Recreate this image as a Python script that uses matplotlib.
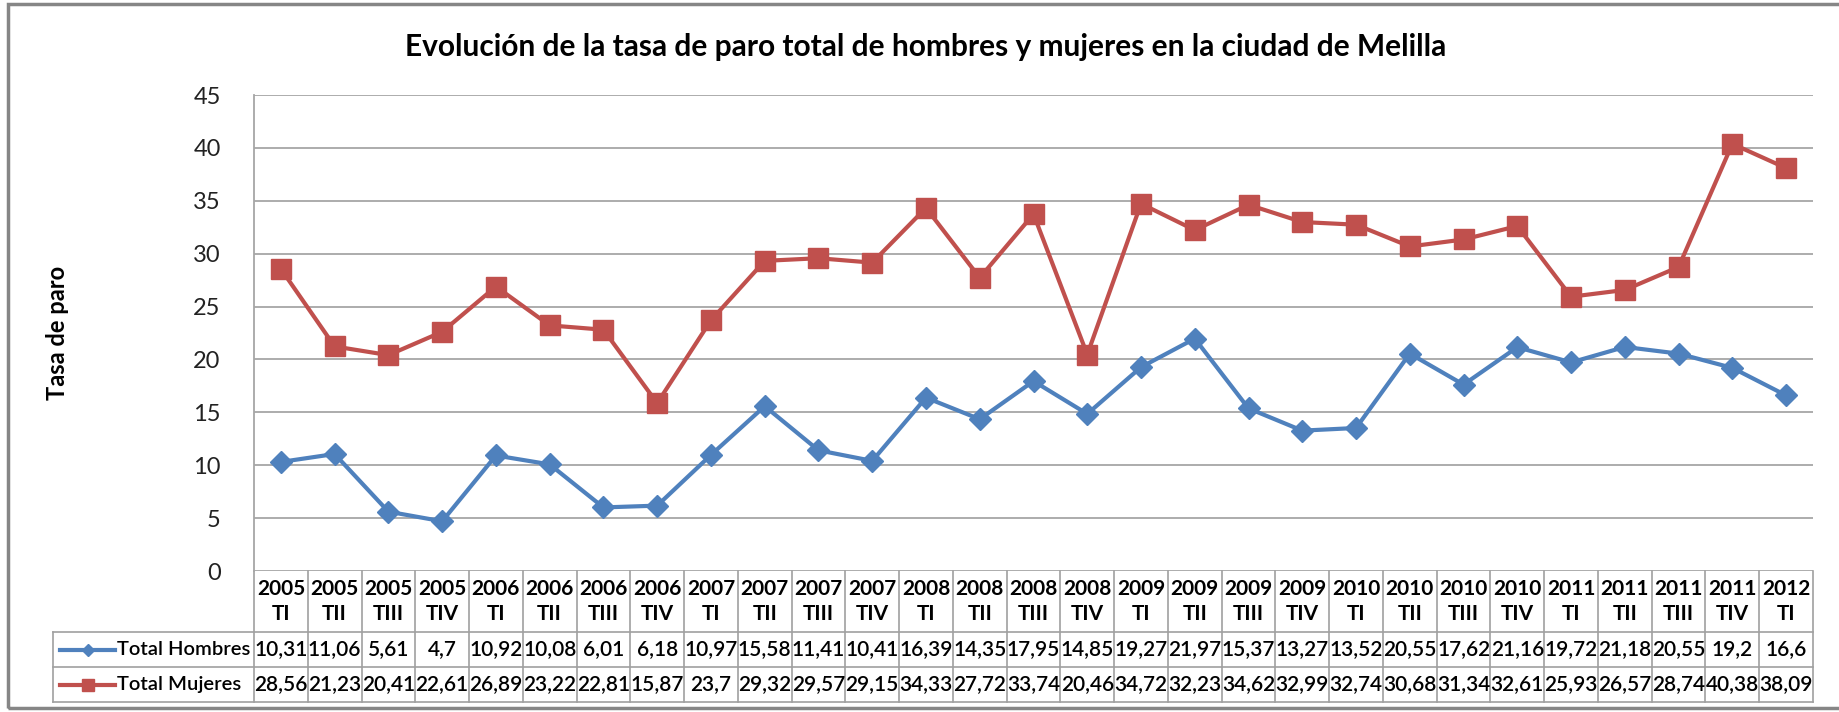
import numpy as np
import matplotlib.pyplot as plt
from matplotlib import transforms
from matplotlib.patches import Rectangle

plt.rcParams['font.family'] = ['Lato', 'DejaVu Sans']

# data
years = ['2005', '2005', '2005', '2005', '2006', '2006', '2006', '2006',
         '2007', '2007', '2007', '2007', '2008', '2008', '2008', '2008',
         '2009', '2009', '2009', '2009', '2010', '2010', '2010', '2010',
         '2011', '2011', '2011', '2011', '2012']
quarters = ['TI', 'TII', 'TIII', 'TIV'] * 7 + ['TI']
hombres = [10.31, 11.06, 5.61, 4.7, 10.92, 10.08, 6.01, 6.18, 10.97, 15.58,
           11.41, 10.41, 16.39, 14.35, 17.95, 14.85, 19.27, 21.97, 15.37, 13.27,
           13.52, 20.55, 17.62, 21.16, 19.72, 21.18, 20.55, 19.2, 16.6]
mujeres = [28.56, 21.23, 20.41, 22.61, 26.89, 23.22, 22.81, 15.87, 23.7, 29.32,
           29.57, 29.15, 34.33, 27.72, 33.74, 20.46, 34.72, 32.23, 34.62, 32.99,
           32.74, 30.68, 31.34, 32.61, 25.93, 26.57, 28.74, 40.38, 38.09]
series = [('Total Hombres', hombres, '#4F81BD', 'D', 11),
          ('Total Mujeres', mujeres, '#C0504D', 's', 15)]
title = 'Evolución de la tasa de paro total de hombres y mujeres en la ciudad de Melilla'

W, H = 1839, 712
fig = plt.figure(figsize=(W / 100, H / 100), dpi=100)


def box(x0, y0, x1, y1):
    return [x0 / W, 1 - y1 / H, (x1 - x0) / W, (y1 - y0) / H]


ax = fig.add_axes(box(254, 95, 1813, 571))
x = np.arange(len(years))
for name, vals, col, mk, ms in series:
    ax.plot(x, vals, color=col, lw=3, marker=mk, ms=ms, mec=col, zorder=3)

ax.set_xlim(-0.5, len(x) - 0.5)
ax.set_ylim(0, 45)
ax.set_yticks(range(0, 46, 5))
ax.set_xticks([])
ax.grid(axis='y', color='#A6A6A6', lw=1.3)
ax.set_axisbelow(True)
for s in ['top', 'right', 'bottom']:
    ax.spines[s].set_visible(False)
ax.spines['left'].set_color('#A6A6A6')
ax.spines['left'].set_linewidth(1.3)
ax.tick_params(axis='y', length=0, pad=24, labelsize=17, colors='#222222')

fig.text(926 / W, 1 - 47 / H, title, ha='center', va='center',
         fontsize=21.5, fontweight='bold')
fig.text(58 / W, 1 - 333 / H, 'Tasa de paro', rotation=90, ha='center',
         va='center', fontsize=17, fontweight='bold')

# data table under the axis
ah = 476.0
aw = 1559.0
rows = [0, -61 / ah, -96 / ah, -131 / ah]
legx = -(254 - 53) / aw
tc = '#A0A0A0'
trans = transforms.blended_transform_factory(ax.transData, ax.transAxes)
for i in range(len(x) + 1):
    ax.plot([i - 0.5, i - 0.5], [rows[0], rows[3]], color=tc, lw=1.2,
            transform=trans, clip_on=False)
for r in rows[1:]:
    ax.plot([legx, 1], [r, r], color=tc, lw=1.2, transform=ax.transAxes,
            clip_on=False)
ax.plot([legx, legx], [rows[1], rows[3]], color=tc, lw=1.2,
        transform=ax.transAxes, clip_on=False)

for i in x:
    ax.text(i, -(589 - 571) / ah, years[i], transform=trans, ha='center',
            va='center', fontsize=15, fontweight='bold')
    ax.text(i, -(614 - 571) / ah, quarters[i], transform=trans, ha='center',
            va='center', fontsize=15, fontweight='bold')

for k, (name, vals, col, mk, ms) in enumerate(series):
    yc = (rows[k + 1] + rows[k + 2]) / 2
    for i in x:
        ax.text(i, yc, f'{vals[i]:g}'.replace('.', ','), transform=trans,
                ha='center', va='center', fontsize=15, fontweight='semibold')
    x0, x1 = -(254 - 60) / aw, -(254 - 115) / aw
    ax.plot([x0, x1], [yc, yc], color=col, lw=3, transform=ax.transAxes,
            clip_on=False)
    ax.plot([(x0 + x1) / 2], [yc], color=col, marker=mk, ms=ms * 0.6,
            transform=ax.transAxes, clip_on=False)
    ax.text(-(254 - 117) / aw, yc, name, transform=ax.transAxes, ha='left',
            va='center', fontsize=14.5, fontweight='semibold')

# chart border
fig.add_artist(Rectangle((8 / W, 1 - 708 / H), 2, 704 / H, fill=False,
                         ec='#868686', lw=2.5, transform=fig.transFigure))

fig.savefig('out.png', dpi=100)
